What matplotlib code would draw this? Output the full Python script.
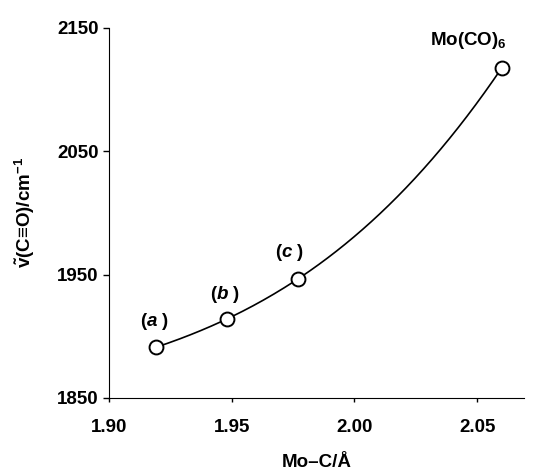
import numpy as np
import matplotlib
matplotlib.use('Agg')
import matplotlib.pyplot as plt

plt.rcParams['font.family'] = ['Liberation Sans', 'DejaVu Sans']
plt.rcParams['mathtext.fontset'] = 'custom'
plt.rcParams['mathtext.rm'] = 'Liberation Sans:bold'
plt.rcParams['mathtext.it'] = 'Liberation Sans:bold:italic'
plt.rcParams['mathtext.bf'] = 'Liberation Sans:bold'

# data
mo_c = [1.919, 1.948, 1.977, 2.060]
nu_co = [1891, 1914, 1946.5, 2117.5]
labels = ['($a$ )', '($b$ )', '($c$ )', 'Mo(CO)$_6$']
label_offsets = [(-1, 19), (-1, 18), (-6, 19), (-24, 20)]   # points

fig = plt.figure(figsize=(5.34, 4.71), dpi=100)
ax = fig.add_axes([0.204, 0.155, 0.777, 0.786])

# smooth curve through the points
coef = np.polyfit(mo_c, nu_co, 3)
xs = np.linspace(mo_c[0], mo_c[-1], 200)
ax.plot(xs, np.polyval(coef, xs), color='black', lw=1.2, zorder=1)
ax.plot(mo_c, nu_co, 'o', ms=10, mfc='white', mec='black', mew=1.4, zorder=2)

for x, y, lab, off in zip(mo_c, nu_co, labels, label_offsets):
    ax.annotate(lab, (x, y), xytext=off, textcoords='offset points',
                ha='center', va='center', fontsize=13.5, fontweight='bold')

ax.set_xlim(1.90, 2.069)
ax.set_ylim(1850, 2150)
ax.set_xticks([1.90, 1.95, 2.00, 2.05])
ax.set_xticklabels(['1.90', '1.95', '2.00', '2.05'])
ax.set_yticks([1850, 1950, 2050, 2150])

ax.spines['top'].set_visible(False)
ax.spines['right'].set_visible(False)
ax.tick_params(labelsize=13.5, length=4, width=1, direction='out')
ax.tick_params(axis='x', pad=12, length=3)
for t in ax.get_xticklabels() + ax.get_yticklabels():
    t.set_fontweight('bold')

ax.set_xlabel('Mo\u2013C/\u00c5', fontsize=13.5, fontweight='bold', labelpad=13)
ax.set_ylabel('$\\tilde{\\mathrm{v}}$(C\u2261O)/cm$^{-1}$', fontsize=13.5,
              fontweight='bold', labelpad=14)

fig.savefig('out.png', dpi=100)
